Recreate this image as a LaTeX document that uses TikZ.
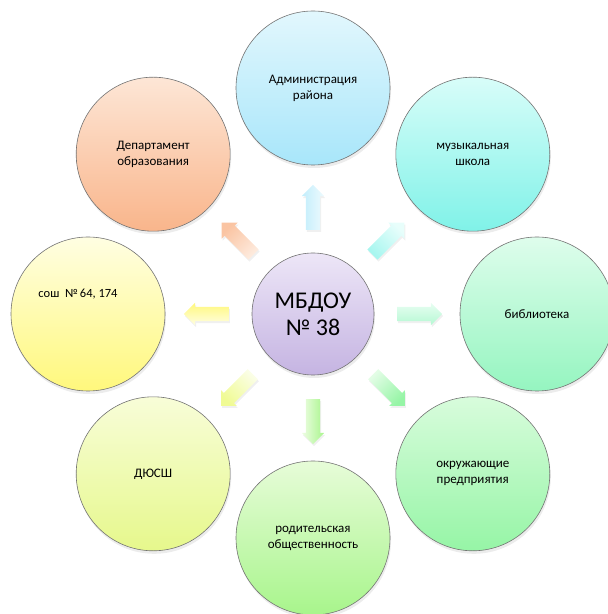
\documentclass[tikz,border=0pt]{standalone}
\usepackage{fontspec}
\setmainfont{Carlito}
\usetikzlibrary{shapes.arrows,shadows}

\definecolor{admTop}{HTML}{E2F7FD}\definecolor{admBot}{HTML}{A8E6FA}
\definecolor{musTop}{HTML}{D8FDF9}\definecolor{musBot}{HTML}{80F2E8}
\definecolor{bibTop}{HTML}{DEFDEC}\definecolor{bibBot}{HTML}{95F5C0}
\definecolor{entTop}{HTML}{D8FCDC}\definecolor{entBot}{HTML}{96F5A6}
\definecolor{parTop}{HTML}{E7FCD8}\definecolor{parBot}{HTML}{A8F58C}
\definecolor{dusTop}{HTML}{F8FDD8}\definecolor{dusBot}{HTML}{E6F88C}
\definecolor{schTop}{HTML}{FFFEE2}\definecolor{schBot}{HTML}{FFF87C}
\definecolor{depTop}{HTML}{FDE6D6}\definecolor{depBot}{HTML}{F9B58B}
\definecolor{hubTop}{HTML}{EDE6F7}\definecolor{hubBot}{HTML}{C5B4E2}
\definecolor{dusRay}{HTML}{F0FB94}

\tikzset{
  ring/.style={circle, draw=black!55, line width=0.6pt, minimum size=154pt,
    inner sep=0pt, align=center, font=\fontsize{13}{16}\selectfont,
    drop shadow={opacity=0.15, shadow xshift=1pt, shadow yshift=-3pt}},
  hub/.style={ring, minimum size=122pt, font=\fontsize{24}{27}\selectfont},
  ray/.style={single arrow, minimum height=45pt, inner sep=7pt,
    single arrow head extend=4pt, draw=none, rotate=#1, shading angle=-#1,
    drop shadow={opacity=0.12, shadow xshift=1pt, shadow yshift=-2pt}},
  note/.style={font=\fontsize{12.5}{16}\selectfont, inner sep=0pt}
}

\begin{document}
\begin{tikzpicture}[x=1pt,y=1pt]
  \useasboundingbox (0,0) rectangle (608,614);
  \node[hub, top color=hubTop, bottom color=hubBot] (mbdou) at (313,300) {МБДОУ\\№ 38};
  \path (mbdou.center)
    +(90:226)  node[ring, top color=admTop, bottom color=admBot] (admin) {Администрация\\района}
    +(45:226)  node[ring, top color=musTop, bottom color=musBot] (music) {музыкальная\\школа}
    +(0:224)   node[ring, top color=bibTop, bottom color=bibBot] (library) {библиотека}
    +(-45:226) node[ring, top color=entTop, bottom color=entBot] (firms) {окружающие\\предприятия}
    +(-90:224) node[ring, top color=parTop, bottom color=parBot] (parents) {родительская\\общественность}
    +(-135:226) node[ring, top color=dusTop, bottom color=dusBot] (sport) {ДЮСШ}
    +(180:225) node[ring, top color=schTop, bottom color=schBot] (school) {}
    +(135:226) node[ring, top color=depTop, bottom color=depBot] (dept) {Департамент\\образования};
  \node[note] (schooltext) at ([shift={(-10,20)}]school.center) {сош\ \ №\,64, 174};
  \path (mbdou.center)
    +(90:103)  node[top color=admTop!60, bottom color=admBot!70, ray=90] (toAdmin) {}
    +(45:103)  node[top color=musTop!60, bottom color=musBot!70, ray=45] (toMusic) {}
    +(0:103)   node[top color=bibTop!70, bottom color=bibBot!70, ray=0] (toLibrary) {}
    +(-45:104) node[top color=entTop!70, bottom color=entBot, ray=-45] (toFirms) {}
    +(-90:104) node[top color=parTop!70, bottom color=parBot, ray=-90] (toParents) {}
    +(-135:104) node[top color=dusTop!60, bottom color=dusRay, ray=-135, shading angle=-45] (toSport) {}
    +(180:103) node[top color=schTop, bottom color=schBot, ray=180] (toSchool) {}
    +(135:103) node[top color=depTop!80, bottom color=depBot!80, ray=135] (toDept) {};
\end{tikzpicture}
\end{document}
